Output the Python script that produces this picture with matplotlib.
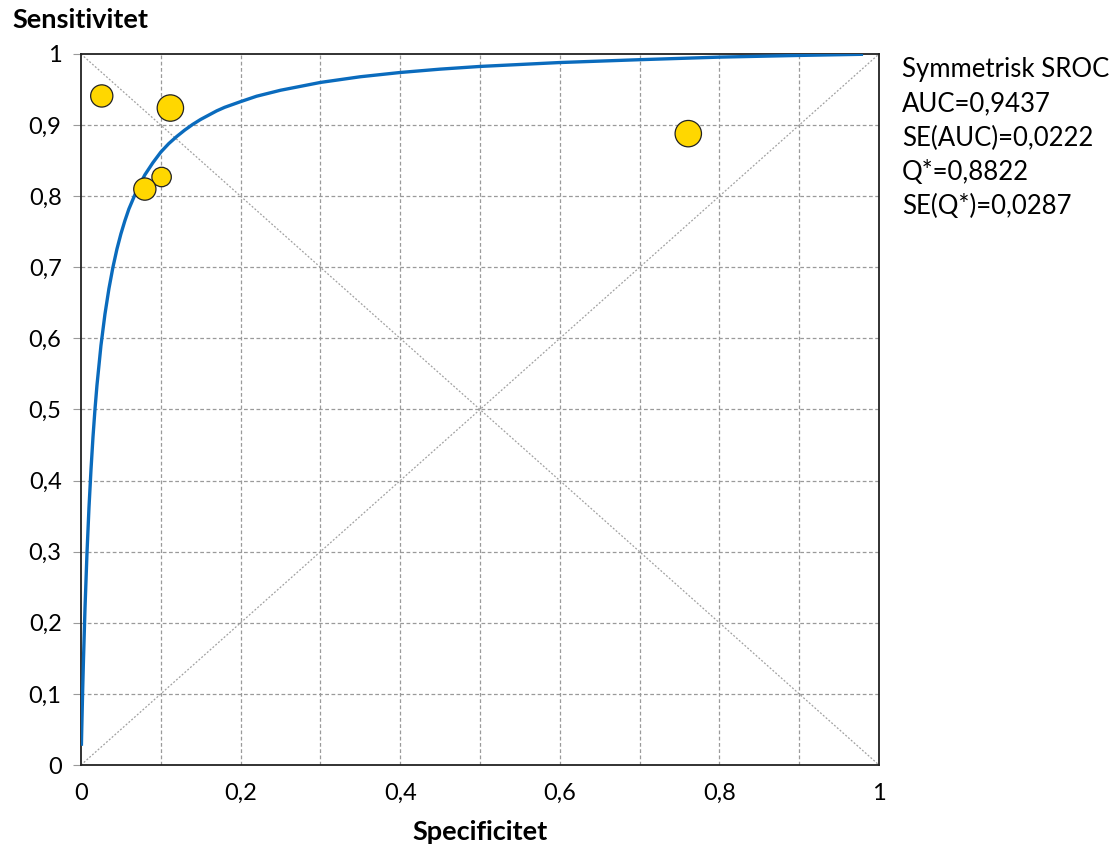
import matplotlib.pyplot as plt

# SROC curve
curve_x = [0.0005, 0.001, 0.002, 0.003, 0.005, 0.0075, 0.01, 0.0125, 0.015, 0.0175, 0.02,
           0.025, 0.03, 0.035, 0.04, 0.045, 0.05, 0.055, 0.06, 0.07, 0.08, 0.09, 0.10, 0.11,
           0.12, 0.13, 0.14, 0.15, 0.17, 0.18, 0.2, 0.22, 0.25, 0.3, 0.35, 0.4, 0.45, 0.5,
           0.6, 0.7, 0.8, 0.9, 0.98]
curve_y = [0.027, 0.053, 0.101, 0.144, 0.220, 0.298, 0.362, 0.415, 0.461, 0.500, 0.534,
           0.590, 0.634, 0.670, 0.700, 0.7255, 0.747, 0.7655, 0.782, 0.8085, 0.830, 0.847,
           0.862, 0.874, 0.884, 0.893, 0.901, 0.908, 0.920, 0.925, 0.933, 0.9406, 0.949,
           0.960, 0.968, 0.974, 0.9787, 0.9825, 0.988, 0.992, 0.9956, 0.998, 0.9996]

# studies
study_x = [0.026, 0.112, 0.101, 0.080, 0.761]
study_y = [0.941, 0.924, 0.827, 0.810, 0.888]
study_size = [16, 19, 14, 16, 19]

stats_text = ["Symmetrisk SROC", "AUC=0,9437", "SE(AUC)=0,0222", "Q*=0,8822", "SE(Q*)=0,0287"]

x_ticks = [0, 0.2, 0.4, 0.6, 0.8, 1]
y_ticks = [0, 0.1, 0.2, 0.3, 0.4, 0.5, 0.6, 0.7, 0.8, 0.9, 1]

plt.rcParams['font.family'] = ['Lato', 'DejaVu Sans']

fig = plt.figure(figsize=(11.16, 8.47), dpi=100)
ax = fig.add_axes([81 / 1116, 82 / 847, 798 / 1116, 711 / 847])

# grid
for v in [i / 10 for i in range(1, 10)]:
    ax.axvline(v, color='#9a9a9a', lw=0.9, ls=(0, (3, 2)), zorder=1)
    ax.axhline(v, color='#9a9a9a', lw=0.9, ls=(0, (3, 2)), zorder=1)

# diagonals
ax.plot([0, 1], [1, 0], color='#a0a0a0', lw=0.9, ls=(0, (1.5, 1.5)), zorder=1)
ax.plot([0, 1], [0, 1], color='#a0a0a0', lw=0.9, ls=(0, (1.5, 1.5)), zorder=1)

ax.plot(curve_x, curve_y, color='#0a6bbd', lw=2.4, zorder=3,
        solid_capstyle='butt', solid_joinstyle='round')

ax.scatter(study_x, study_y, s=[d ** 2 for d in study_size], color='#ffd700',
           edgecolors='#222222', linewidths=0.9, zorder=4)

ax.set_xlim(0, 1)
ax.set_ylim(0, 1)
ax.set_xticks(x_ticks)
ax.set_xticklabels([f"{t:g}".replace('.', ',') for t in x_ticks], fontsize=17)
ax.set_yticks(y_ticks)
ax.set_yticklabels([f"{t:g}".replace('.', ',') for t in y_ticks], fontsize=17)
ax.tick_params(axis='x', length=0, pad=13)
ax.tick_params(axis='y', length=6, color='#9a9a9a', pad=8)

for s in ax.spines.values():
    s.set_color('#222222')
    s.set_linewidth(1.3)

fig.text(12 / 1116, 1 - 20 / 847, "Sensitivitet", fontsize=19.5, fontweight='bold',
         ha='left', va='center')
fig.text(480 / 1116, 1 - 832 / 847, "Specificitet", fontsize=19.5, fontweight='bold',
         ha='center', va='center')

for i, line in enumerate(stats_text):
    fig.text(902 / 1116, 1 - (70 + i * 34) / 847, line, fontsize=18.5, ha='left', va='center')

fig.savefig('out.png', dpi=100)
